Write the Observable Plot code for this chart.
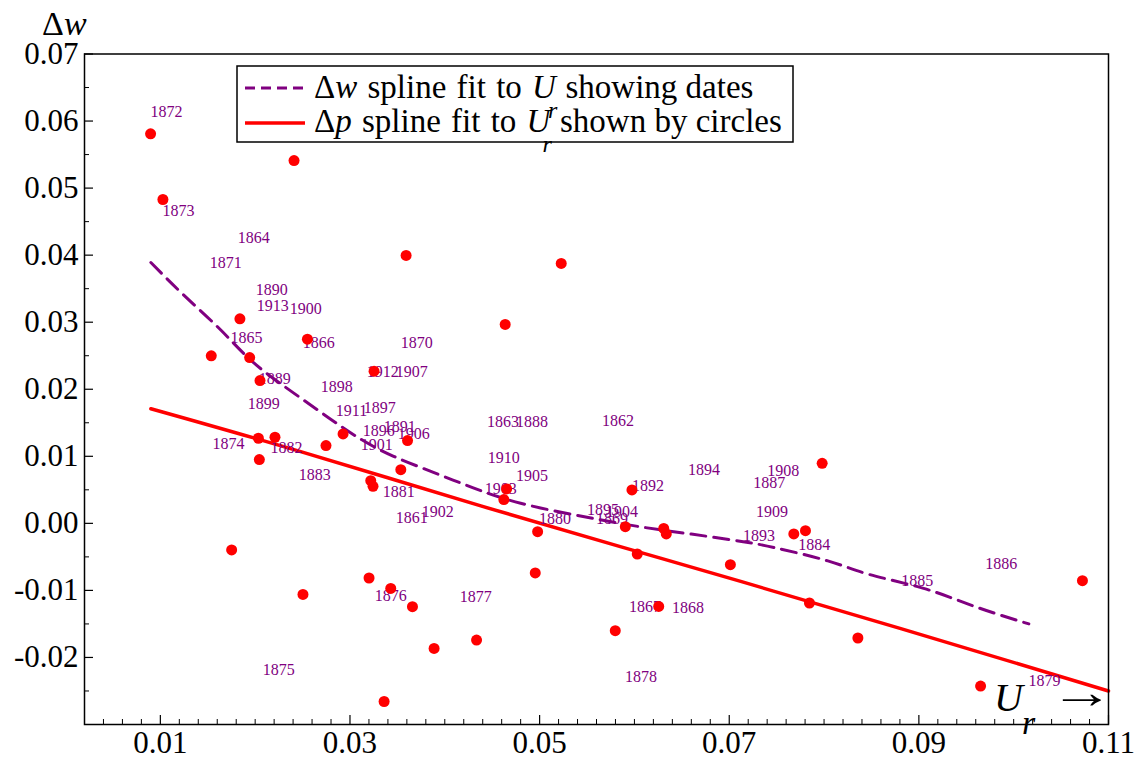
<!DOCTYPE html>
<html>
<head>
<meta charset="utf-8">
<script src="https://cdn.jsdelivr.net/npm/d3@7"></script>
<script src="https://cdn.jsdelivr.net/npm/@observablehq/plot@0.6"></script>
<style>
  html, body { margin: 0; padding: 0; background: #fff; }
  #chart { width: 1136px; height: 758px; }
</style>
</head>
<body>
<div id="chart"></div>
<script>
// ---- Data ----
// Δp values shown by red circles: U_r and Δp
const circleU  = [0.00897,0.01027,0.0241,0.03592,0.05228,0.04637,0.01839,0.01537,0.01942,0.02551,
                  0.02051,0.03254,0.02034,0.02209,0.02044,0.02747,0.02927,0.03607,0.03536,0.03219,
                  0.03243,0.01752,0.02504,0.03201,0.0343,0.03659,0.03887,0.04335,0.0336,0.04954,
                  0.05798,0.06256,0.04652,0.04623,0.04979,0.05974,0.05904,0.0603,0.06309,0.06336,
                  0.07012,0.0798,0.07681,0.07804,0.07846,0.08357,0.09651,0.10725];
const circleDp = [0.0581,0.0483,0.0541,0.03996,0.03876,0.02966,0.03051,0.02499,0.02473,0.02746,
                  0.0213,0.02269,0.01269,0.01284,0.00951,0.0116,0.01334,0.01234,0.00801,0.00637,
                  0.00552,-0.00397,-0.0106,-0.00815,-0.0097,-0.01243,-0.01866,-0.0174,-0.02657,-0.0074,
                  -0.01601,-0.01239,0.00513,0.00354,-0.00124,0.00499,-0.00049,-0.00457,-0.00075,-0.00158,
                  -0.00616,0.00896,-0.00158,-0.00109,-0.01188,-0.0171,-0.02427,-0.00855];

// Δw values shown by dates
const years  = ["1872","1873","1864","1871","1890","1913","1900","1865","1866","1870",
                "1889","1912","1907","1898","1899","1911","1897","1896","1891","1906",
                "1901","1874","1882","1883","1881","1861","1902","1876","1877","1875",
                "1863","1888","1862","1910","1905","1903","1892","1894","1895","1904",
                "1869","1880","1908","1887","1909","1893","1884","1886","1885","1867",
                "1868","1878","1879"];
const yearU  = [0.00897,0.01023,0.01815,0.0152,0.02005,0.02016,0.02364,0.01741,0.02501,0.03536,
                0.02037,0.03177,0.03483,0.02691,0.01921,0.0285,0.03145,0.03135,0.03356,0.03504,
                0.03114,0.01551,0.02163,0.02459,0.03346,0.03483,0.03757,0.03261,0.04159,0.02079,
                0.04444,0.0475,0.05658,0.04454,0.0475,0.04422,0.05974,0.06566,0.055,0.057,
                0.05594,0.04993,0.074,0.07252,0.07283,0.07146,0.07727,0.09701,0.08814,0.05943,
                0.06397,0.05901,0.10155];
const yearDw = [0.0613,0.04667,0.04264,0.03891,0.03488,0.03249,0.03204,0.02772,0.02697,0.02697,
                0.0216,0.02264,0.02264,0.0204,0.01787,0.01682,0.01727,0.01384,0.01443,0.01339,
                0.01175,0.0119,0.0113,0.00727,0.00473,0.00085,0.00175,-0.01079,-0.01094,-0.02184,
                0.01518,0.01518,0.01533,0.00981,0.00712,0.00518,0.00563,0.00801,0.00204,0.00175,
                0.0007,0.0007,0.00787,0.00607,0.00175,-0.00184,-0.00318,-0.00601,-0.00855,-0.01243,
                -0.01258,-0.02288,-0.02348];

// Δw spline fit (dashed purple)
const dwFitU = [0.009,0.0125,0.0164,0.0198,0.024,0.028,0.0312,0.0346,0.0388,0.043,0.048,
                0.055,0.061,0.066,0.0713,0.0747,0.0804,0.0847,0.0905,0.0959,0.1016];
const dwFitV = [0.0389,0.034,0.0288,0.024,0.0195,0.0155,0.0125,0.01,0.0076,0.0053,0.003,
                0.0009,-0.0006,-0.0016,-0.0027,-0.0036,-0.0056,-0.0076,-0.0097,-0.0124,-0.015];

// Δp spline fit (solid red)
const dpFitU = [0.009,0.0248,0.0438,0.0586,0.0713,0.0881,0.11];
const dpFitV = [0.0171,0.0107,0.0026,-0.0035,-0.0087,-0.0157,-0.025];

// Axis ticks
const xTicks = [0.01,0.03,0.05,0.07,0.09,0.11];
const yTicks = [-0.02,-0.01,0.00,0.01,0.02,0.03,0.04,0.05,0.06,0.07];

// ---- Build tables ----
const circles = circleU.map((u, i) => ({u, v: circleDp[i]}));
const labels  = years.map((year, i) => ({year, u: yearU[i], v: yearDw[i]}));
const dwFit   = dwFitU.map((u, i) => ({u, v: dwFitV[i]}));
const dpFit   = dpFitU.map((u, i) => ({u, v: dpFitV[i]}));

const xMinor = d3.range(0.002, 0.1101, 0.002).filter(v => !xTicks.some(t => Math.abs(t - v) < 1e-6));
const yMinor = d3.range(-0.025, 0.07, 0.01);

const W = 1136, H = 758;
const mL = 84, mR = 28, mT = 53.5, mB = 34;
const plotH = H - mT - mB;
const plotW = W - mL - mR;
const serif = "Liberation Serif, Times New Roman, DejaVu Serif, serif";
const purple = "#800080";

const chart = Plot.plot({
  width: W, height: H,
  marginLeft: mL, marginRight: mR, marginTop: mT, marginBottom: mB,
  style: {fontFamily: serif, background: "#fff", color: "#000", overflow: "visible"},
  x: {domain: [0.002, 0.11]},
  y: {domain: [-0.03, 0.07]},
  marks: [
    Plot.line(dpFit, {x: "u", y: "v", stroke: "#ff0000", strokeWidth: 3.5, curve: "natural"}),
    Plot.line(dwFit, {x: "u", y: "v", stroke: purple, strokeWidth: 3, strokeDasharray: "15,8", curve: "natural"}),
    Plot.text(labels, {x: "u", y: "v", text: "year", textAnchor: "start", fill: purple, fontSize: 16, fontFamily: serif}),
    Plot.dot(circles, {x: "u", y: "v", r: 5.5, fill: "#ff0000"}),
    Plot.frame({stroke: "#000", strokeWidth: 1.5}),
    Plot.tickX(xTicks, {x: d => d, insetTop: plotH - 9, stroke: "#000", strokeWidth: 1.2}),
    Plot.tickX(xMinor, {x: d => d, insetTop: plotH - 5, stroke: "#000", strokeWidth: 1}),
    Plot.tickY(yTicks, {y: d => d, insetRight: plotW - 9, stroke: "#000", strokeWidth: 1.2}),
    Plot.tickY(yMinor, {y: d => d, insetRight: plotW - 5, stroke: "#000", strokeWidth: 1}),
    Plot.axisX({ticks: xTicks, tickSize: 0, tickPadding: 6, tickFormat: d => d.toFixed(2), fontSize: 31, fontFamily: serif, label: null}),
    Plot.axisY({ticks: yTicks, tickSize: 0, tickPadding: 6, tickFormat: d => d.toFixed(2), fontSize: 31, fontFamily: serif, label: null})
  ]
});

document.getElementById("chart").appendChild(chart);

// ---- Annotations: axis labels and legend ----
const svg = d3.select(chart);
const ann = svg.append("g").attr("font-family", serif).attr("fill", "#000").attr("text-anchor", "start");

// Δw label top-left
const t1 = ann.append("text").attr("x", 42).attr("y", 35).attr("font-size", 34);
t1.append("tspan").text("Δ");
t1.append("tspan").attr("font-style", "italic").text("w");

// U_r → label bottom-right
ann.append("text").attr("x", 994).attr("y", 711).attr("font-size", 40).attr("font-style", "italic").text("U");
ann.append("text").attr("x", 1022).attr("y", 734).attr("font-size", 34).attr("font-style", "italic").text("r");
ann.append("text").attr("transform", "translate(1050,708) scale(1.4,1)").attr("x", 0).attr("y", 0)
  .attr("font-size", 46).text("→");

// Legend box
const lg = ann.append("g");
lg.append("rect").attr("x", 237).attr("y", 66).attr("width", 556).attr("height", 76)
  .attr("fill", "#fff").attr("stroke", "#000").attr("stroke-width", 1.5);
lg.append("line").attr("x1", 245).attr("x2", 305).attr("y1", 88).attr("y2", 88)
  .attr("stroke", purple).attr("stroke-width", 3).attr("stroke-dasharray", "10,6");
lg.append("line").attr("x1", 245).attr("x2", 305).attr("y1", 123).attr("y2", 123)
  .attr("stroke", "#ff0000").attr("stroke-width", 3.5);

function legendLine(y, sym, rest) {
  const t = lg.append("text").attr("x", 314).attr("y", y).attr("font-size", 33);
  t.append("tspan").text("Δ");
  t.append("tspan").attr("font-style", "italic").text(sym);
  t.append("tspan").attr("word-spacing", 2).text(" spline fit to ");
  t.append("tspan").attr("font-style", "italic").text("U");
  t.append("tspan").attr("font-style", "italic").attr("font-size", 24).attr("dx", -8).attr("dy", 20).text("r");
  t.append("tspan").attr("dy", -20).text(" " + rest);
}
legendLine(98, "w", "showing dates");
legendLine(132, "p", "shown by circles");
</script>
</body>
</html>
